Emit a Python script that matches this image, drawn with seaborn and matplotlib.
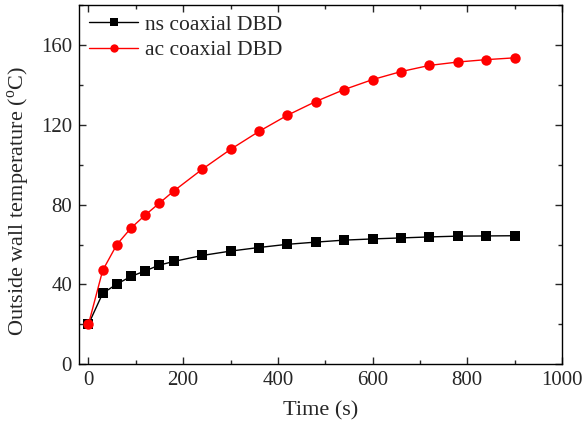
import numpy as np
import pandas as pd
import matplotlib
matplotlib.use("Agg")
import matplotlib.pyplot as plt
import seaborn as sns
from matplotlib.ticker import MultipleLocator

time_s = [0, 30, 60, 90, 120, 150, 180, 240, 300, 360, 420, 480, 540, 600, 660, 720, 780, 840, 900]
ns_temp = [20, 35.5, 40.2, 44, 46.8, 49.7, 51.5, 54.5, 56.7, 58.5, 60.1, 61.2, 62.2, 62.8, 63.3, 63.8, 64.2, 64.3, 64.4]
ac_temp = [20, 47, 60, 68.3, 74.8, 80.8, 86.8, 97.7, 107.7, 116.7, 124.8, 131.7, 137.7, 142.7, 146.7, 149.8, 151.5, 152.7, 153.6]
series_names = ["ns coaxial DBD", "ac coaxial DBD"]

sns.set_style("ticks")
plt.rcParams["font.family"] = ["Liberation Serif", "DejaVu Serif"]
plt.rcParams["mathtext.fontset"] = "custom"
plt.rcParams["mathtext.rm"] = "Liberation Serif"

df = pd.concat([
    pd.DataFrame({"Time": time_s, "Temp": ns_temp, "Series": series_names[0]}),
    pd.DataFrame({"Time": time_s, "Temp": ac_temp, "Series": series_names[1]}),
])

fig = plt.figure(figsize=(5.83, 4.32), dpi=100)
ax = fig.add_axes([0.1355, 0.157, 0.8285, 0.831])

sns.lineplot(data=df[df.Series == series_names[0]], x="Time", y="Temp", ax=ax,
             color="black", marker="s", markersize=6.5, markeredgewidth=0,
             linewidth=1.0, label=series_names[0])
sns.lineplot(data=df[df.Series == series_names[1]], x="Time", y="Temp", ax=ax,
             color="red", marker="o", markersize=7.5, markeredgewidth=0,
             linewidth=1.0, label=series_names[1])

ax.set_xlim(-20, 1000)
ax.set_ylim(0, 180)
ax.xaxis.set_major_locator(MultipleLocator(200))
ax.xaxis.set_minor_locator(MultipleLocator(100))
ax.yaxis.set_major_locator(MultipleLocator(40))
ax.yaxis.set_minor_locator(MultipleLocator(20))
ax.tick_params(which="both", direction="in", top=True, right=True, labelsize=15, width=1.0)
ax.tick_params(which="major", length=5, pad=5)
ax.tick_params(which="minor", length=3)
for s in ax.spines.values():
    s.set_linewidth(1.0)
    s.set_color("black")

ax.set_xlabel("Time (s)", fontsize=16, labelpad=8)
ax.set_ylabel(r"Outside wall temperature ($^\mathregular{o}$C)", fontsize=16)
ax.yaxis.set_label_coords(-0.098, 0.455)

leg = ax.legend(loc="upper left", frameon=False, fontsize=15.5, handlelength=2.3,
                borderaxespad=0.1, labelspacing=0.25, handletextpad=0.3,
                bbox_to_anchor=(-0.002, 1.003))
for h in leg.legend_handles:
    h.set_markersize(6)

fig.savefig("out.png", dpi=100)
